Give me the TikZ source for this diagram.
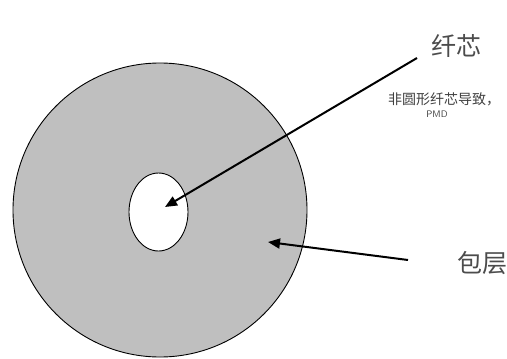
\documentclass[tikz,border=0pt]{standalone}
\usepackage{fontspec}
\newfontfamily\cjk{Noto Sans CJK SC}
\usetikzlibrary{arrows.meta,shapes.geometric}
\begin{document}
\begin{tikzpicture}[x=1pt,y=-1pt,
  ring/.style={draw=black,line width=0.9pt},
  pointer/.style={draw=black,line width=2pt,-{Triangle[length=12pt,width=10pt]}},
  big/.style={font=\cjk\fontsize{25}{28}\selectfont,text=black!70,inner sep=0pt},
  small/.style={font=\cjk\fontsize{14}{16}\selectfont,text=black!75,inner sep=0pt}]
\useasboundingbox (0,0) rectangle (507,359);
\path[fill=white] (0,0) rectangle (507,359);
\node[ring,fill=black!25,circle,minimum size=294pt,inner sep=0pt] (clad) at (160,210) {};
\node[ring,fill=white,ellipse,minimum width=59pt,minimum height=78pt,inner sep=0pt] (core) at (158.5,212) {};
\node[big,anchor=center] (lcore) at (456,46) {纤芯};
\node[small,anchor=west] (note) at (388,99) {非圆形纤芯导致，};
\node[font=\sffamily\fontsize{9.5}{11}\selectfont,text=black!75,inner sep=0pt] (pmd) at (437,114) {PMD};
\node[big,anchor=west] (lclad) at (457,263) {包层};
\coordinate (s1) at (417,58);
\coordinate (t1) at (165,207);
\coordinate (s2) at (408,260);
\coordinate (t2) at (268,242);
\draw[pointer] (s1) -- (t1);
\draw[pointer] (s2) -- (t2);
\end{tikzpicture}
\end{document}
